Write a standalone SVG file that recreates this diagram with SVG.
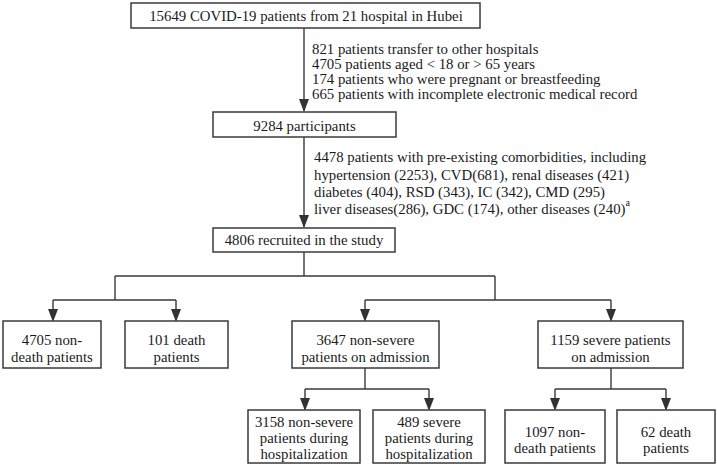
<svg xmlns="http://www.w3.org/2000/svg" width="717" height="466" viewBox="0 0 717 466">
<defs>
<style>
.box{fill:#fff;stroke:#3a3a3a;stroke-width:1.5}
.t{font-family:"Liberation Serif","Times New Roman",serif;font-size:14.8px;fill:#1a1a1a}
.c{text-anchor:middle}
.ln{fill:none;stroke:#3a3a3a;stroke-width:1.4}
.ah{fill:#333}
</style>
</defs>
<rect width="717" height="466" fill="#fff"/>
<g id="connectors">
<path class="ln" d="M304,28 V111"/>
<path class="ah" d="M299,99 L309,99 L304,112 Z"/>
<path class="ln" d="M304,137 V227"/>
<path class="ah" d="M299,215 L309,215 L304,228 Z"/>
<path class="ln" d="M304,252 V276 M115,276 H495 M115,276 V300 M53,300 H176 M53,300 V320 M176,300 V320 M495,276 V300 M365,300 H611 M365,300 V320 M611,300 V320"/>
<path class="ah" d="M48,309 L58,309 L53,322 Z M171,309 L181,309 L176,322 Z M360,309 L370,309 L365,322 Z M606,309 L616,309 L611,322 Z"/>
<path class="ln" d="M365,368 V389 M305,389 H429 M305,389 V409 M429,389 V409 M611,368 V389 M555,389 H666 M555,389 V409 M666,389 V409"/>
<path class="ah" d="M300,398 L310,398 L305,411 Z M424,398 L434,398 L429,411 Z M550,398 L560,398 L555,411 Z M661,398 L671,398 L666,411 Z"/>
</g>
<g id="n_total">
<rect class="box" x="131" y="3" width="349" height="25"/>
<text class="t c" x="306" y="21">15649 COVID-19 patients from 21 hospital in Hubei</text>
</g>
<g id="excl1">
<text class="t" x="312" y="54">821 patients transfer to other hospitals</text>
<text class="t" x="312" y="69">4705 patients aged &lt; 18 or &gt; 65 years</text>
<text class="t" x="312" y="84">174 patients who were pregnant or breastfeeding</text>
<text class="t" x="312" y="99">665 patients with incomplete electronic medical record</text>
</g>
<g id="n_participants">
<rect class="box" x="213" y="112" width="183" height="25"/>
<text class="t c" x="304.5" y="131">9284 participants</text>
</g>
<g id="excl2">
<text class="t" x="314" y="162">4478 patients with pre-existing comorbidities, including</text>
<text class="t" x="314" y="180">hypertension (2253), CVD(681), renal diseases (421)</text>
<text class="t" x="314" y="197">diabetes (404), RSD (343), IC (342), CMD (295)</text>
<text class="t" x="314" y="214">liver diseases(286), GDC (174), other diseases (240)<tspan font-size="10" dy="-8">a</tspan></text>
</g>
<g id="n_recruited">
<rect class="box" x="213" y="228" width="182" height="24"/>
<text class="t c" x="304" y="245">4806 recruited in the study</text>
</g>
<g id="n_nondeath">
<rect class="box" x="3" y="321" width="98" height="47"/>
<text class="t c" x="52" y="345">4705 non-</text>
<text class="t c" x="52" y="362">death patients</text>
</g>
<g id="n_death">
<rect class="box" x="125" y="321" width="103" height="47"/>
<text class="t c" x="176.5" y="345">101 death</text>
<text class="t c" x="176.5" y="362">patients</text>
</g>
<g id="n_nonsevere_adm">
<rect class="box" x="292" y="321" width="147" height="47"/>
<text class="t c" x="365.5" y="345">3647 non-severe</text>
<text class="t c" x="365.5" y="362">patients on admission</text>
</g>
<g id="n_severe_adm">
<rect class="box" x="538" y="321" width="145" height="47"/>
<text class="t c" x="610.5" y="345">1159 severe patients</text>
<text class="t c" x="610.5" y="362">on admission</text>
</g>
<g id="n_nonsevere_hosp">
<rect class="box" x="248" y="410" width="112" height="53"/>
<text class="t c" x="304" y="427">3158 non-severe</text>
<text class="t c" x="304" y="443">patients during</text>
<text class="t c" x="304" y="459">hospitalization</text>
</g>
<g id="n_severe_hosp">
<rect class="box" x="373" y="410" width="112" height="53"/>
<text class="t c" x="429" y="427">489 severe</text>
<text class="t c" x="429" y="443">patients during</text>
<text class="t c" x="429" y="459">hospitalization</text>
</g>
<g id="n_nondeath2">
<rect class="box" x="505" y="410" width="100" height="53"/>
<text class="t c" x="555" y="437">1097 non-</text>
<text class="t c" x="555" y="453">death patients</text>
</g>
<g id="n_death2">
<rect class="box" x="617" y="410" width="98" height="53"/>
<text class="t c" x="666" y="437">62 death</text>
<text class="t c" x="666" y="453">patients</text>
</g>
</svg>
